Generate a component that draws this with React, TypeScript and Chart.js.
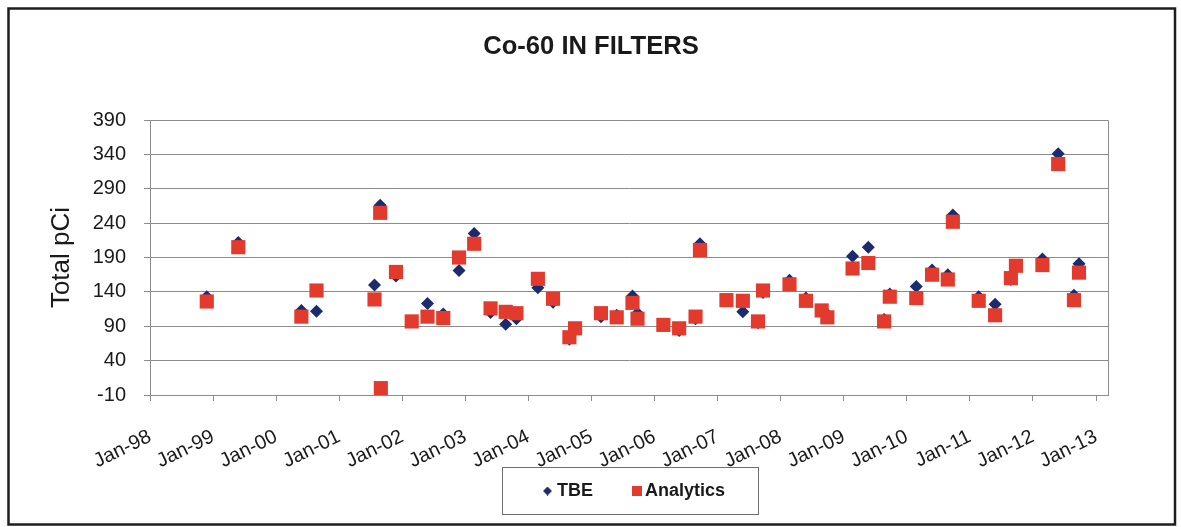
import React, { useEffect, useRef } from 'react';
import { Chart, registerables } from 'chart.js';

Chart.register(...registerables);

// Sample dates as decimal years
const sampleDates = [
  1998.90, 1999.40, 2000.40, 2000.64, 2001.56, 2001.65, 2001.66, 2001.90,
  2002.15, 2002.40, 2002.65, 2002.90, 2003.14, 2003.40, 2003.64, 2003.81,
  2004.15, 2004.39, 2004.65, 2004.74, 2005.15, 2005.40, 2005.65, 2005.73,
  2006.14, 2006.39, 2006.65, 2006.72, 2007.14, 2007.40, 2007.64, 2007.72,
  2008.14, 2008.40, 2008.65, 2008.74, 2009.14, 2009.39, 2009.64, 2009.73,
  2010.15, 2010.40, 2010.65, 2010.73, 2011.14, 2011.40, 2011.65, 2011.73,
  2012.15, 2012.40, 2012.65, 2012.73,
];

const tbeValues: (number | null)[] = [
  133, 212, 113, 112, 150, 266, null, 163,
  97, 123, 108, 171, 225, 110, 93, 101,
  146, 125, 71, 87, 104, 106, 134, 109,
  92, 84, 101, 210, 127, 111, 95, 139,
  157, 131, 113, 107, 192, 205, 100, 137,
  148, 172, 165, 252, 133, 122, 158, 177,
  188, 341, 135, 181,
];

const analyticsValues: (number | null)[] = [
  126, 205, 104, 142, 129, 255, 0, 169,
  97, 104, 102, 190, 210, 116, 111, 109,
  159, 130, 74, 87, 109, 103, 124, 101,
  92, 87, 104, 201, 128, 127, 97, 142,
  151, 127, 113, 103, 174, 182, 97, 133,
  131, 165, 158, 242, 127, 106, 160, 178,
  179, 326, 128, 168,
];

const xTickValues = [1998, 1999, 2000, 2001, 2002, 2003, 2004, 2005, 2006, 2007, 2008, 2009, 2010, 2011, 2012, 2013];
const xTickLabels = ['Jan-98', 'Jan-99', 'Jan-00', 'Jan-01', 'Jan-02', 'Jan-03', 'Jan-04', 'Jan-05', 'Jan-06', 'Jan-07', 'Jan-08', 'Jan-09', 'Jan-10', 'Jan-11', 'Jan-12', 'Jan-13'];
const yTickValues = [-10, 40, 90, 140, 190, 240, 290, 340, 390];

const TITLE = 'Co-60 IN FILTERS';
const Y_TITLE = 'Total pCi';
const SERIES_NAMES = ['TBE', 'Analytics'];

const NAVY = '#1c2a6e';
const RED = '#e23a2c';
const GRID = '#8c8c8c';
const TEXT = '#1a1a1a';
const FONT = '"Liberation Sans", Arial, Helvetica, sans-serif';

function makeIcon(kind: 'diamond' | 'square', color: string, w: number, size: number) {
  const c = document.createElement('canvas');
  c.width = w;
  c.height = size;
  const g = c.getContext('2d')!;
  g.fillStyle = color;
  if (kind === 'square') {
    g.fillRect(w - size, 0, size, size);
  } else {
    const cx = w - size / 2;
    g.beginPath();
    g.moveTo(cx, 0);
    g.lineTo(w, size / 2);
    g.lineTo(cx, size);
    g.lineTo(w - size, size / 2);
    g.closePath();
    g.fill();
  }
  return c;
}

const framePlugin = {
  id: 'frameDeco',
  afterLayout(chart: any) {
    // Excel centers the legend slightly left of the plot-area centre
    const lg = chart.legend;
    if (lg) {
      lg.left -= 6.5;
      lg.right -= 6.5;
    }
  },
  beforeDraw(chart: any) {
    const { ctx, width, height } = chart;
    ctx.save();
    ctx.fillStyle = '#ffffff';
    ctx.fillRect(0, 0, width, height);
    ctx.restore();
  },
  beforeDatasetsDraw(chart: any) {
    const { ctx, chartArea } = chart;
    ctx.save();
    ctx.strokeStyle = GRID;
    ctx.lineWidth = 1;
    ctx.beginPath();
    ctx.moveTo(chartArea.left, Math.round(chartArea.top) + 0.5);
    ctx.lineTo(Math.round(chartArea.right) + 0.5, Math.round(chartArea.top) + 0.5);
    ctx.lineTo(Math.round(chartArea.right) + 0.5, chartArea.bottom);
    ctx.stroke();
    ctx.restore();
  },
  afterDraw(chart: any) {
    const { ctx, width, height } = chart;
    ctx.save();
    ctx.strokeStyle = '#1e1e1e';
    ctx.lineWidth = 2.5;
    ctx.strokeRect(8.5, 8.5, width - 14.5, height - 11);
    const lg = chart.legend;
    if (lg && lg.legendHitBoxes && lg.legendHitBoxes.length) {
      const hb = lg.legendHitBoxes;
      const first = hb[0];
      const last = hb[hb.length - 1];
      const cy = first.top + first.height / 2;
      const left = first.left - 18;
      const right = last.left + last.width + 33;
      ctx.strokeStyle = '#6e6e6e';
      ctx.lineWidth = 1;
      ctx.strokeRect(Math.round(left) + 0.5, Math.round(cy - 24) + 0.5, Math.round(right - left), 47);
    }
    ctx.restore();
  },
};

export default function App() {
  const canvasRef = useRef<HTMLCanvasElement | null>(null);

  useEffect(() => {
    if (!canvasRef.current) return;
    const tbeIcon = makeIcon('diamond', NAVY, 36, 9);
    const anIcon = makeIcon('square', RED, 40, 10);

    const chart = new Chart(canvasRef.current, {
      type: 'scatter',
      data: {
        datasets: [
          {
            label: SERIES_NAMES[0],
            data: sampleDates.map((d, i) => ({ x: d, y: tbeValues[i] })) as any,
            pointStyle: 'rectRot',
            pointRadius: 6.5,
            pointHoverRadius: 6.5,
            backgroundColor: NAVY,
            borderColor: NAVY,
            pointBorderWidth: 0,
            order: 2,
          },
          {
            label: SERIES_NAMES[1],
            data: sampleDates.map((d, i) => ({ x: d, y: analyticsValues[i] })) as any,
            pointStyle: 'rect',
            pointRadius: 10,
            pointHoverRadius: 10,
            backgroundColor: RED,
            borderColor: RED,
            pointBorderWidth: 0,
            order: 1,
          },
        ],
      },
      options: {
        responsive: false,
        animation: false,
        layout: { padding: { left: 74, right: 73, top: 32, bottom: 17 } },
        plugins: {
          title: {
            display: true,
            text: TITLE,
            color: TEXT,
            font: { family: FONT, size: 25.6, weight: 'bold' },
            padding: { top: 0, bottom: 57.3 },
          },
          legend: {
            display: true,
            position: 'bottom',
            fullSize: false,
            labels: {
              usePointStyle: true,
              pointStyleWidth: 28,
              padding: 15,
              color: TEXT,
              font: { family: FONT, size: 18, weight: 'bold' },
              generateLabels: (ch: any) => {
                const items = (Chart.defaults.plugins.legend.labels as any).generateLabels(ch);
                items.sort((a: any, b: any) => a.datasetIndex - b.datasetIndex);
                return items.map((it: any) => ({
                  ...it,
                  pointStyle: it.datasetIndex === 0 ? tbeIcon : anIcon,
                  fontColor: TEXT,
                }));
              },
            },
          },
          tooltip: { enabled: false },
        },
        scales: {
          x: {
            type: 'linear',
            min: 1998,
            max: 2013.19,
            afterBuildTicks: (s: any) => {
              s.ticks = xTickValues.map((v) => ({ value: v }));
            },
            afterFit: (s: any) => {
              s.height = 72;
            },
            ticks: {
              autoSkip: false,
              minRotation: 26,
              maxRotation: 26,
              padding: 24,
              color: TEXT,
              font: { family: FONT, size: 20 },
              callback: (_v: any, i: number) => xTickLabels[i],
            },
            grid: {
              display: true,
              drawOnChartArea: false,
              drawTicks: true,
              tickLength: 6,
              color: GRID,
            },
            border: { display: true, color: GRID },
          },
          y: {
            type: 'linear',
            min: -10,
            max: 390,
            afterBuildTicks: (s: any) => {
              s.ticks = yTickValues.map((v) => ({ value: v }));
            },
            afterFit: (s: any) => {
              s.width = 76;
            },
            ticks: {
              padding: 18,
              color: TEXT,
              font: { family: FONT, size: 20 },
              callback: (v: any) => String(v),
            },
            grid: {
              color: GRID,
              drawTicks: true,
              tickLength: 6,
            },
            border: { display: true, color: GRID },
            title: {
              display: true,
              text: Y_TITLE,
              color: TEXT,
              font: { family: FONT, size: 26 },
              padding: { top: -27.6, bottom: 0 },
            },
          },
        },
      },
      plugins: [framePlugin],
    } as any);

    return () => chart.destroy();
  }, []);

  return (
    <div style={{ position: 'absolute', left: 0, top: 0, width: 1181, height: 527, overflow: 'hidden', background: '#fff' }}>
      <canvas ref={canvasRef} width={1181} height={527} style={{ display: 'block' }} />
    </div>
  );
}
